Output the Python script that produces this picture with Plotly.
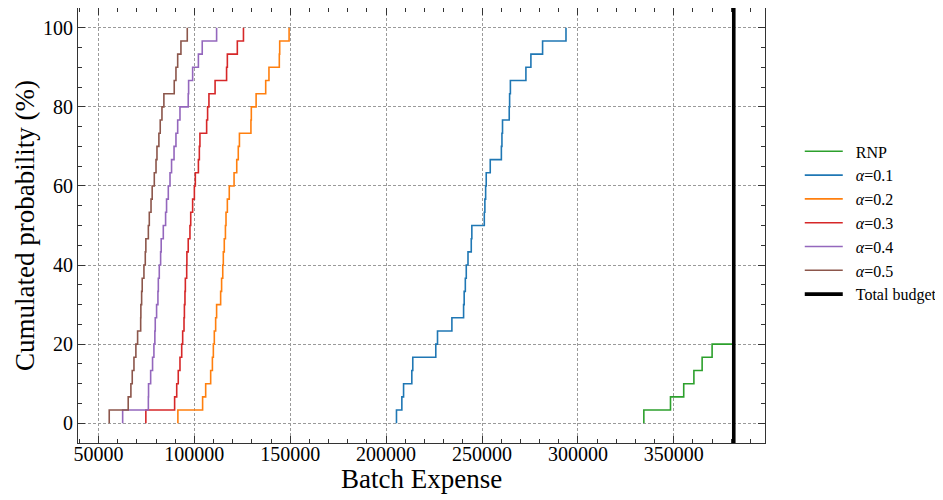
import numpy as np
import plotly.graph_objects as go

# ---- data ----
n_samples = 30
total_budget = 381300

rnp_values = [334400, 348300, 355200, 360500, 364800, 370000]

alpha01_values = [205400, 208200, 209100, 213400, 213900, 225900, 226800, 234300, 240400, 240700,
                  241300, 241800, 242700, 244400, 244700, 251200, 251500, 251900, 252200, 254300,
                  260100, 260400, 260700, 264200, 264400, 264800, 272900, 275500, 281600, 293800]

alpha02_values = [91400, 104300, 105900, 108500, 109400, 109900, 110400, 111100, 111600, 113700,
                  114200, 114800, 115100, 115600, 116200, 116500, 117200, 118200, 120700, 122100,
                  122900, 123500, 129500, 129700, 132200, 137200, 138900, 144300, 144500, 149400]

alpha03_values = [74700, 89700, 90800, 91600, 92500, 93400, 93900, 94600, 94800, 95100,
                  95300, 96000, 96100, 96800, 97700, 98100, 99100, 100000, 100500, 102100,
                  102600, 102900, 106400, 106900, 107600, 110800, 116800, 117200, 122400, 125600]

alpha04_values = [62600, 76000, 76100, 77200, 78200, 78900, 79400, 79600, 80300, 81000,
                  81200, 81700, 82400, 82700, 83800, 85000, 85500, 86400, 87300, 88100,
                  89400, 90400, 91300, 92500, 96800, 97000, 99100, 102100, 104100, 111600]

alpha05_values = [55600, 65500, 66900, 67600, 68500, 69500, 70400, 72000, 72100, 72500,
                  72800, 73700, 74400, 74700, 76000, 76500, 77400, 78000, 79100, 80000,
                  80500, 81500, 82200, 83100, 84100, 89500, 90400, 91300, 93000, 96300]

series_names = ["RNP", "<i>α</i>=0.1", "<i>α</i>=0.2", "<i>α</i>=0.3", "<i>α</i>=0.4", "<i>α</i>=0.5"]
series_colors = ["#2ca02c", "#1f77b4", "#ff7f0e", "#d62728", "#9467bd", "#8c564b"]
budget_name = "Total budget"

x_ticks = [50000, 100000, 150000, 200000, 250000, 300000, 350000]
y_ticks = [0, 20, 40, 60, 80, 100]

x_title = "Batch Expense"
y_title = "Cumulated probability (%)"

FONT = "Liberation Serif"
PAD = "\u00a0\u00a0"


def ecdf_xy(values, n, end_x=None):
    vals = sorted(values)
    levels = [100.0 * (i + 1) / n for i in range(len(vals))]
    xs = [vals[0]] + vals
    ys = [0.0] + levels
    if end_x is not None:
        xs = xs + [end_x]
        ys = ys + [levels[-1]]
    return xs, ys


fig = go.Figure()

all_series = [rnp_values, alpha01_values, alpha02_values, alpha03_values, alpha04_values, alpha05_values]
for i, (vals, name, col) in enumerate(zip(all_series, series_names, series_colors)):
    xs, ys = ecdf_xy(vals, n_samples, end_x=total_budget if i == 0 else None)
    fig.add_trace(go.Scatter(x=xs, y=ys, mode="lines", name=PAD + name,
                             line=dict(color=col, width=1.6, shape="hv")))

fig.add_trace(go.Scatter(x=[total_budget, total_budget], y=[-5, 105], mode="lines",
                         name=PAD + budget_name, line=dict(color="black", width=3.6)))

axis_common = dict(
    showline=True, linecolor="#333333", linewidth=1, mirror="allticks",
    ticks="inside", ticklen=7, tickwidth=1, tickcolor="#333333",
    showgrid=True, gridcolor="#9a9a9a", griddash="3px,2px", gridwidth=0.8,
    zeroline=False, automargin=False,
    tickfont=dict(family=FONT, size=20, color="black"),
)

fig.update_xaxes(
    range=[39315, 397585], tickvals=x_ticks, tickformat="d", ticklabelstandoff=-7,
    minor=dict(dtick=10000, tick0=0, ticks="inside", ticklen=4, tickcolor="#333333", showgrid=False),
    **axis_common,
)
fig.update_yaxes(
    range=[-5, 105], tickvals=y_ticks,
    minor=dict(dtick=5, tick0=0, ticks="inside", ticklen=4, tickcolor="#333333", showgrid=False),
    title=dict(text=y_title, font=dict(family=FONT, size=27, color="black"), standoff=0),
    **axis_common,
)

fig.add_annotation(text=x_title, xref="paper", yref="paper", x=0.5, y=-0.0828,
                   xanchor="center", yanchor="middle", showarrow=False,
                   font=dict(family=FONT, size=27, color="black"))

fig.update_layout(
    width=935, height=492,
    margin=dict(l=70, r=178, t=0, b=57),
    paper_bgcolor="white", plot_bgcolor="white",
    font=dict(family=FONT, color="black"),
    showlegend=True,
    legend=dict(x=1.0506, xanchor="left", y=0.506, yanchor="middle", itemwidth=38,
                font=dict(family=FONT, size=16, color="black"),
                bgcolor="rgba(0,0,0,0)", borderwidth=0, tracegroupgap=0),
)

fig.write_html("out.html")
